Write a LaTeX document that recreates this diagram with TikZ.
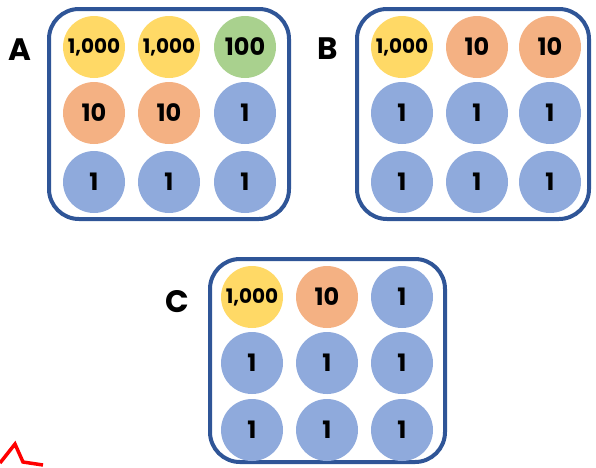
\documentclass[tikz,border=0pt]{standalone}
\usepackage{fontspec}
\setmainfont{Poppins}
\definecolor{cyel}{HTML}{FFD966}
\definecolor{cgrn}{HTML}{A9D18E}
\definecolor{corg}{HTML}{F4B183}
\definecolor{cblu}{HTML}{8FAADC}
\definecolor{cbdr}{HTML}{2F5597}
\begin{document}
\begin{tikzpicture}[x=1pt,y=-1pt,
  plate/.style={draw=cbdr,line width=4pt,rounded corners=30pt},
  well/.style={circle,minimum size=62pt,inner sep=0pt,font=\fontsize{24}{24}\selectfont\bfseries},
  big/.style={well,font=\fontsize{20}{20}\selectfont\bfseries},
  yel/.style={big,fill=cyel},
  grn/.style={well,fill=cgrn},
  org/.style={well,fill=corg},
  blu/.style={well,fill=cblu},
  lab/.style={font=\fontsize{31}{31}\selectfont\bfseries}]
\useasboundingbox (0,0) rectangle (596,467);
% plate A
\draw[plate] (49,9) rectangle (289,219);
\node[lab] (la) at (20,50) {A};
\node[yel] (a11) at (94,47) {1,000};
\node[yel] (a12) at (169,47) {1,000};
\node[grn] (a13) at (245,47) {100};
\node[org] (a21) at (94,113) {10};
\node[org] (a22) at (169,113) {10};
\node[blu] (a23) at (245,113) {1};
\node[blu] (a31) at (94,182) {1};
\node[blu] (a32) at (169,182) {1};
\node[blu] (a33) at (245,182) {1};
% plate B
\draw[plate] (357,9) rectangle (589,219);
\node[lab] (lb) at (328,49) {B};
\node[yel] (b11) at (402,47) {1,000};
\node[org] (b12) at (477,47) {10};
\node[org] (b13) at (550,47) {10};
\node[blu] (b21) at (402,113) {1};
\node[blu] (b22) at (477,113) {1};
\node[blu] (b23) at (550,113) {1};
\node[blu] (b31) at (402,182) {1};
\node[blu] (b32) at (477,182) {1};
\node[blu] (b33) at (550,182) {1};
% plate C
\draw[plate] (210,259) rectangle (445,462);
\node[lab] (lc) at (177,302) {C};
\node[yel] (c11) at (252,297) {1,000};
\node[org] (c12) at (327,297) {10};
\node[blu] (c13) at (402,297) {1};
\node[blu] (c21) at (252,363) {1};
\node[blu] (c22) at (327,363) {1};
\node[blu] (c23) at (402,363) {1};
\node[blu] (c31) at (252,430) {1};
\node[blu] (c32) at (327,430) {1};
\node[blu] (c33) at (402,430) {1};
% red mark
\draw[red,line width=3.5pt] (0,463) -- (15,444) -- (23,462) -- (43,465);
\end{tikzpicture}
\end{document}
